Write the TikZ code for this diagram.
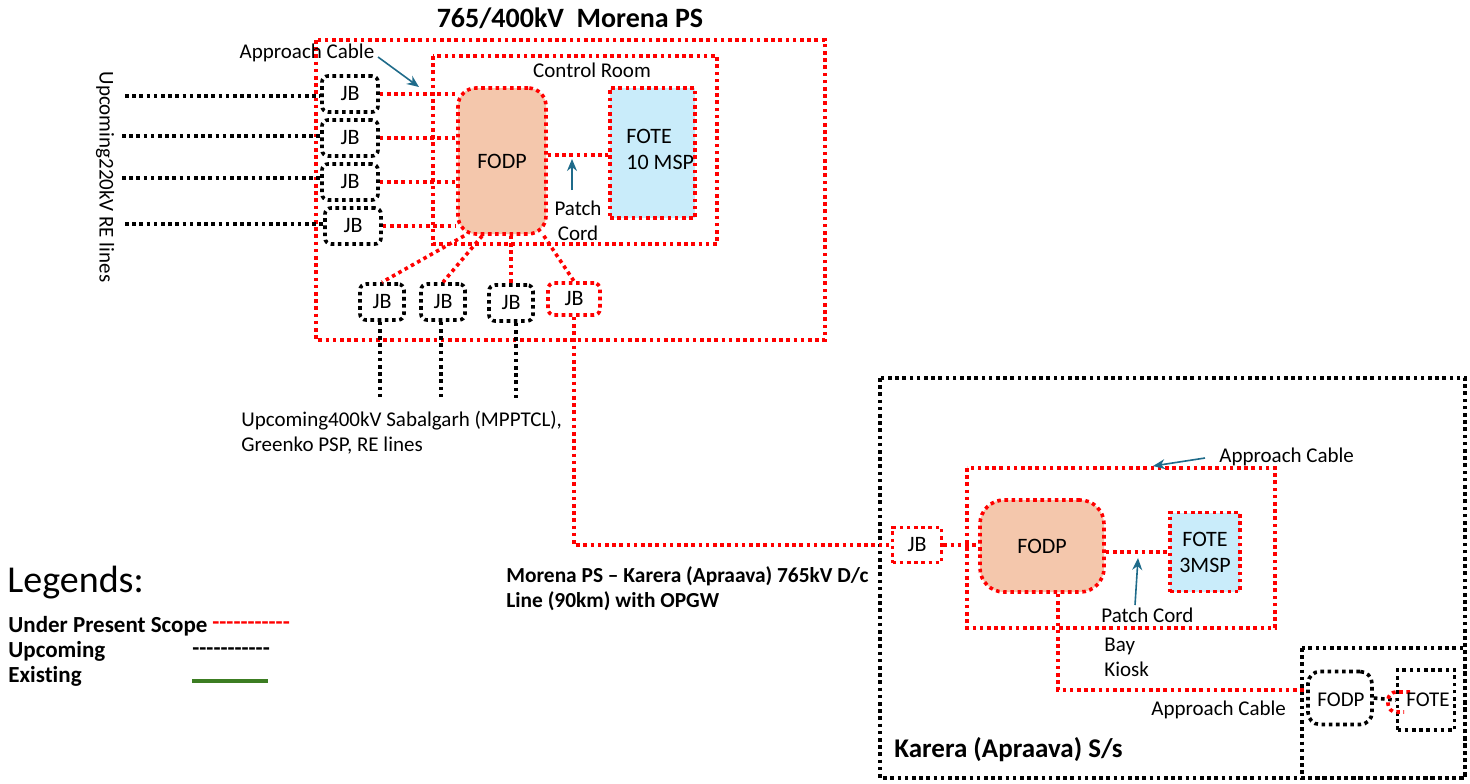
\documentclass[tikz,border=0pt]{standalone}
\usepackage{fontspec}
\setmainfont{Carlito}[Ligatures={TeX,NoCommon}]
\newfontfamily\plainfont{Carlito}[Ligatures=NoCommon]
\usetikzlibrary{arrows.meta}
\definecolor{peach}{HTML}{F4C7AC}
\definecolor{lblue}{HTML}{C9ECFA}
\definecolor{tealarr}{HTML}{1F6B8A}
\definecolor{exgreen}{HTML}{3C7D22}
\tikzset{
  rdot/.style={draw=red, line width=1.8pt, dash pattern=on 1.8pt off 1.8pt},
  bdot/.style={draw=black, line width=1.8pt, dash pattern=on 1.8pt off 1.8pt},
  jbox/.style={rounded corners=3pt, inner sep=0pt, font=\fontsize{11}{12}\selectfont},
  pcarrow/.style={draw=tealarr, line width=0.8pt, -{Stealth[length=6pt,width=5pt]}},
  lbl/.style={inner sep=0pt, font=\fontsize{10.5}{12.5}\selectfont},
  legb/.style={inner sep=0pt, anchor=west, font=\fontsize{11.5}{13}\bfseries\selectfont},
}
\begin{document}
\begin{tikzpicture}[x=0.5pt,y=-0.5pt]
\useasboundingbox (0,0) rectangle (1470,783);
% ---------- Morena PS ----------
\node[lbl, font=\fontsize{14}{16}\selectfont\bfseries] (titleM) at (570,18) {765/400kV\ \ Morena PS};
\draw[rdot] (316,40) rectangle (825,340);
\draw[rdot] (433,56) rectangle (717,244);
\node[lbl] (ctrl) at (592,70) {Control Room};
\node[rdot, fill=peach, rounded corners=9pt, minimum width=44pt, minimum height=73pt, inner sep=0pt, font=\fontsize{11}{13}\selectfont] (fodpM) at (502,161) {FODP};
\node[rdot, fill=lblue, minimum width=42.5pt, minimum height=65pt, inner sep=0pt] (foteM) at (652.5,153) {};
\node[lbl, anchor=west, align=left, font=\fontsize{11}{13}\selectfont] (foteMt) at (626,149) {FOTE\\10 MSP};
% JBs left
\node[bdot, jbox, minimum width=28pt, minimum height=18pt] (jb1) at (350,94) {JB};
\node[bdot, jbox, minimum width=28pt, minimum height=18pt] (jb2) at (350,138) {JB};
\node[bdot, jbox, minimum width=28pt, minimum height=18pt] (jb3) at (350,182) {JB};
\node[bdot, jbox, minimum width=28pt, minimum height=18pt] (jb4) at (353,226) {JB};
% JBs bottom
\node[bdot, jbox, minimum width=22pt, minimum height=18pt] (jb5) at (382,302) {JB};
\node[bdot, jbox, minimum width=22pt, minimum height=18pt] (jb6) at (443,302) {JB};
\node[bdot, jbox, minimum width=22pt, minimum height=18pt] (jb7) at (511,303) {JB};
\node[rdot, jbox, minimum width=26pt, minimum height=16pt] (jb8) at (574,299) {JB};
% upcoming 220kV lines
\coordinate (u1) at (125,96);
\coordinate (u2) at (122,136);
\coordinate (u3) at (122,178);
\coordinate (u4) at (125,224);
\draw[bdot] (u1) -- (u1 -| jb1.west);
\draw[bdot] (u2) -- (u2 -| jb2.west);
\draw[bdot] (u3) -- (u3 -| jb3.west);
\draw[bdot] (u4) -- (u4 -| jb4.west);
\node[lbl, rotate=-90] (up220) at (105,177) {Upcoming220kV RE lines};
% JB -> FODP
\draw[rdot] (jb1.east) -- (jb1.east -| fodpM.west);
\draw[rdot] (jb2.east) -- (jb2.east -| fodpM.west);
\draw[rdot] (jb3.east) -- (jb3.east -| fodpM.west);
\draw[rdot] (jb4.east) -- (jb4.east -| fodpM.west);
% patch cord
\coordinate (pcM) at (0,155);
\draw[rdot] (fodpM.east |- pcM) -- (foteM.west |- pcM);
\coordinate (pcMa) at (572,190);
\draw[pcarrow] (pcMa) -- (572,159);
\node[lbl, align=center] (pcMt) at (578,221) {Patch\\Cord};
% approach cable
\node[lbl] (acM) at (307,53) {Approach Cable};
\coordinate (acMs) at (378,57);
\coordinate (acMe) at (419,87);
\draw[pcarrow] (acMs) -- (acMe);
% FODP -> bottom JBs
\draw[rdot] ([xshift=4pt]fodpM.south west) -- (jb5.north);
\draw[rdot] ([xshift=13pt]fodpM.south west) -- (jb6.north);
\draw[rdot] (fodpM.south -| jb7.north) -- (jb7.north);
\draw[rdot] ([xshift=-2pt]fodpM.south east) -- (jb8.north);
% upcoming 400kV lines
\coordinate (d5) at (380,398);
\coordinate (d6) at (441,398);
\coordinate (d7) at (516,398);
\draw[bdot] (jb5.south -| d5) -- (d5);
\draw[bdot] (jb6.south -| d6) -- (d6);
\draw[bdot] (jb7.south -| d7) -- (d7);
\node[lbl, anchor=west, align=left] (up400) at (241,433) {Upcoming400kV Sabalgarh (MPPTCL),\\Greenko PSP, RE lines};
% line label
\node[lbl, anchor=west, align=left, font=\fontsize{10.7}{12.5}\selectfont\bfseries] (linelbl) at (506,589) {Morena PS – Karera (Apraava) 765kV D/c\\Line (90km) with OPGW};
% ---------- Legends ----------
\node[lbl, anchor=west, font=\fontsize{19}{21}\selectfont] (leg) at (7,583) {Legends:};
\node[legb] (leg1) at (8,626) {Under Present Scope};
\node[legb, text=red, font=\fontsize{11.5}{13}\selectfont\bfseries\plainfont] (leg1d) at (212,626) {-----------};
\node[legb] (leg2) at (8,651) {Upcoming};
\node[legb, font=\fontsize{11.5}{13}\selectfont\bfseries\plainfont] (leg2d) at (192,652) {-----------};
\node[legb] (leg3) at (8,676) {Existing};
\coordinate (g1) at (192,681);
\coordinate (g2) at (268,681);
\draw[exgreen, line width=2pt] (g1) -- (g2);
% ---------- Karera ----------
\draw[bdot] (880,378) rectangle (1465,778);
\draw[rdot] (967,468) rectangle (1275,628);
\node[rdot, fill=peach, rounded corners=12pt, minimum width=62pt, minimum height=46pt, inner sep=0pt, font=\fontsize{11}{13}\selectfont] (fodpK) at (1042,546) {FODP};
\node[rdot, fill=lblue, minimum width=35pt, minimum height=39.5pt, inner sep=0pt, align=center, font=\fontsize{11}{13}\selectfont] (foteK) at (1205,552) {FOTE\\3MSP};
\node[rdot, jbox, rounded corners=0pt, minimum width=24.5pt, minimum height=17.5pt] (jbK) at (917,545) {JB};
\draw[rdot] (jb8.south) |- (jbK.west);
\draw[rdot] (jbK.east) -- (jbK.east -| fodpK.west);
\coordinate (pcK) at (0,552);
\draw[rdot] (fodpK.east |- pcK) -- (foteK.west |- pcK);
\coordinate (pcKa) at (1135,605);
\draw[pcarrow] (pcKa) -- (1138,558);
\node[lbl, anchor=west] (pcKt) at (1101,615) {Patch Cord};
\node[lbl, anchor=west] (acK) at (1219,457) {Approach Cable};
\coordinate (acKs) at (1205,458);
\draw[pcarrow] (acKs) -- (1153,466);
\node[lbl, anchor=west, align=left] (bay) at (1104,657) {Bay\\Kiosk};
% kiosk
\draw[bdot] (1302,648) rectangle (1465,778);
\node[bdot, rounded corners=6pt, minimum width=32pt, minimum height=26.5pt, inner sep=0pt] (fodpS) at (1340,698) {};
\node[lbl] (fodpSt) at (1341,700) {FODP};
\node[bdot, minimum width=28.5pt, minimum height=30pt, inner sep=0pt] (foteS) at (1426,700) {};
\draw[rdot] ([xshift=8pt]fodpK.south) |- ([yshift=4pt]fodpS.west);
\draw[bdot] (fodpS.east) -- (foteS.west);
\draw[rdot, rounded corners=4pt] (1410,692) -- (1388,692) -- (1388,712) -- (1404,712);
\node[lbl] (foteSt) at (1428,700) {FOTE};
\node[lbl, anchor=west] (acK2) at (1151,710) {Approach Cable};
\node[lbl, anchor=west, font=\fontsize{13.5}{16}\selectfont\bfseries] (karT) at (894,750) {Karera (Apraava) S/s};
\end{tikzpicture}
\end{document}
